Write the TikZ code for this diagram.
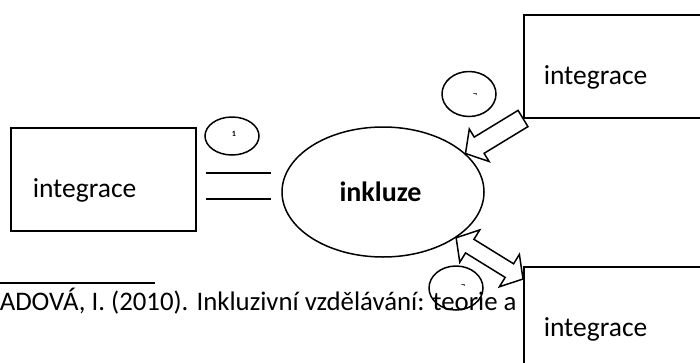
\documentclass[tikz,border=0pt]{standalone}
\usepackage{fontspec}
\setmainfont{Carlito}
\usetikzlibrary{calc,shapes.geometric}
\begin{document}
\begin{tikzpicture}[x=1pt,y=-1pt,line width=1.5pt,
  box/.style={draw,fill=white,rectangle,inner sep=0pt,anchor=north west},
  boxtext/.style={anchor=base west,inner sep=0pt,font=\fontsize{27.5}{30}\selectfont},
  oval/.style={draw,ellipse,inner sep=0pt},
  badge/.style={draw,ellipse,inner sep=0pt,minimum width=54pt},
  tiny/.style={inner sep=0pt,font=\fontsize{8}{8}\selectfont\bfseries},
  blockarrow/.style={draw,fill=white,line join=miter}]
\useasboundingbox (0,0) rectangle (700,362);
\clip (0,0) rectangle (700,362);

% footnote rule and reference
\draw (0,283) -- (155,283);
\node[anchor=base west,inner sep=0pt,font=\fontsize{26.8}{30}\selectfont] (ref) at (-1,310)
  {ADOVÁ, I. (2010). Inkluzivní vzdělávání: teorie a praxe};

% boxes
\node[box,minimum width=185pt,minimum height=103pt] (lbox) at (10,127) {};
\node[boxtext] (ltxt) at (32,197) {integrace};
\node[box,minimum width=200pt,minimum height=103pt] (trbox) at (523,14) {};
\node[boxtext] (trtxt) at (543,84) {integrace};
\node[box,minimum width=200pt,minimum height=120pt] (brbox) at (523,266) {};
\node[boxtext] (brtxt) at (543,336) {integrace};

% central ellipse
\node[oval,minimum width=202pt,minimum height=130pt] (inkl) at (383,192) {};
\node[anchor=base,inner sep=0pt,font=\fontsize{28}{30}\selectfont\bfseries] (itxt) at (380.5,201) {inkluze};

% small numbered ovals
\node[badge,minimum height=38pt] (c1) at (232,136) {};
\node[tiny] (n1) at (234,134) {1};
\node[badge,minimum height=45pt] (c2) at (469,94) {};
\node[tiny] (n2) at (475,95) {¬};
\node[badge,minimum height=44pt] (c3) at (456,288) {};
\node[tiny] (n3) at (463,286) {¬};

% equality link between the left box and the ellipse
\coordinate (e1a) at (206,173);
\coordinate (e1b) at (271,173);
\coordinate (e2a) at (206,199);
\coordinate (e2b) at (271,199);
\draw (e1a) -- (e1b);
\draw (e2a) -- (e2b);

% single block arrow: top box -> ellipse
\coordinate (a1t) at (inkl.25);
\coordinate (a1s) at (trbox.south west);
\coordinate (a1h) at ($(a1t)!16pt!(a1s)$);
\draw[blockarrow] (a1t) -- ($(a1h)!19pt!90:(a1s)$) -- ($(a1h)!9.5pt!90:(a1s)$)
  -- ($(a1s)!9.5pt!-90:(a1t)$) -- ($(a1s)!9.5pt!90:(a1t)$)
  -- ($(a1h)!9.5pt!-90:(a1s)$) -- ($(a1h)!19pt!-90:(a1s)$) -- cycle;

% double block arrow: ellipse <-> bottom box
\coordinate (a2a) at (inkl.-32);
\coordinate (a2b) at ($(brbox.north west)+(0,13)$);
\coordinate (a2h1) at ($(a2a)!16pt!(a2b)$);
\coordinate (a2h2) at ($(a2b)!16pt!(a2a)$);
\draw[blockarrow] (a2a) -- ($(a2h1)!19pt!90:(a2b)$) -- ($(a2h1)!8pt!90:(a2b)$)
  -- ($(a2h2)!8pt!-90:(a2a)$) -- ($(a2h2)!19pt!-90:(a2a)$) -- (a2b)
  -- ($(a2h2)!19pt!90:(a2a)$) -- ($(a2h2)!8pt!90:(a2a)$)
  -- ($(a2h1)!8pt!-90:(a2b)$) -- ($(a2h1)!19pt!-90:(a2b)$) -- cycle;
\end{tikzpicture}
\end{document}
